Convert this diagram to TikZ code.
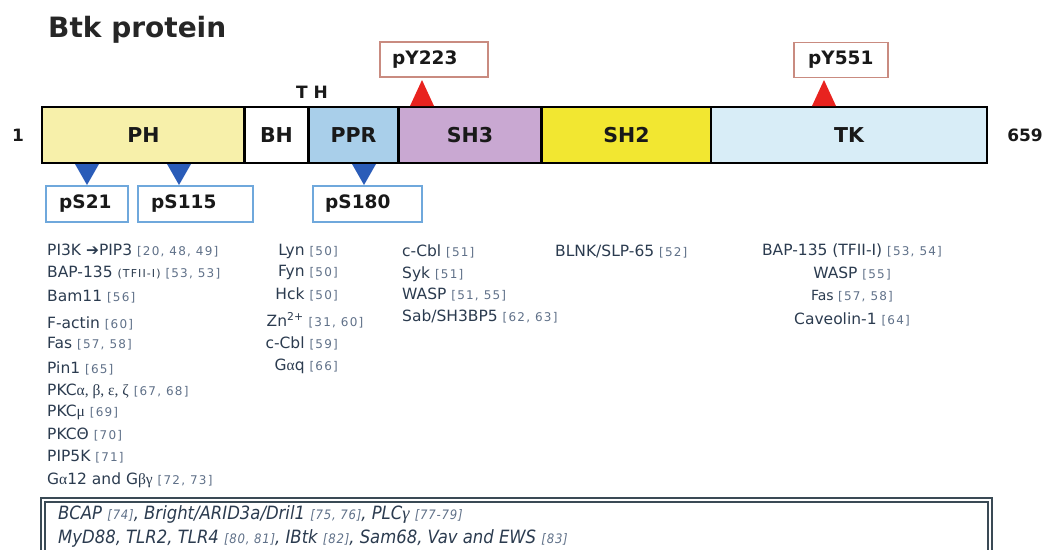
\documentclass[tikz,border=0pt]{standalone}
\usepackage{fontspec}
\setmainfont{DejaVu Sans}
\newfontfamily\condfont{DejaVu Sans Condensed}
\newfontfamily\reffont[LetterSpace=10]{DejaVu Sans}
\newfontfamily\condref[LetterSpace=6]{DejaVu Sans Condensed}
\newfontfamily\grk{Liberation Serif}
\definecolor{phc}{HTML}{F7F0AA}
\definecolor{pprc}{HTML}{A9CFEA}
\definecolor{shthree}{HTML}{C9A8D2}
\definecolor{shtwo}{HTML}{F2E731}
\definecolor{tkc}{HTML}{D8EDF7}
\definecolor{pyborder}{HTML}{C98B80}
\definecolor{psborder}{HTML}{6FA8DC}
\definecolor{redtri}{HTML}{E8231F}
\definecolor{bluetri}{HTML}{2A5CB8}
\definecolor{listc}{HTML}{2B3B4F}
\definecolor{refc}{HTML}{5F7088}
\definecolor{boxline}{HTML}{3A4A55}
\newcommand{\rf}[1]{{\reffont\fontsize{12}{14}\selectfont\color{refc}[#1]}}
\newcommand{\brf}[1]{{\condref\itshape\fontsize{13}{15}\selectfont\color{refc}[#1]}}
\newcommand{\gk}[1]{{\grk #1}}
\begin{document}
\begin{tikzpicture}[x=1pt,y=-1pt,
  dom/.style={draw=black,line width=2.2pt,minimum height=56,inner sep=0pt,
    font=\fontsize{20.5}{24}\selectfont\bfseries,text=black!90},
  pybox/.style={draw=pyborder,line width=1.6pt,fill=white,minimum height=35,inner sep=0pt},
  psbox/.style={draw=psborder,line width=1.6pt,fill=white,minimum height=36,inner sep=0pt},
  tag/.style={font=\fontsize{18.5}{22}\selectfont\bfseries,text=black!90,inner sep=0pt},
  item/.style={font=\fontsize{15.5}{18}\selectfont,text=listc,inner sep=0pt},
  bitem/.style={font=\condfont\itshape\fontsize{18.3}{20}\selectfont,text=listc,inner sep=0pt},
  redt/.style={fill=redtri},
  bluet/.style={fill=bluetri}]
\useasboundingbox (0,0) rectangle (1047,549);
% title
\node[font=\fontsize{28}{32}\selectfont\bfseries,text=black!85,anchor=west,inner sep=0pt] (title) at (48,30) {Btk protein};
% domains
\node[dom,fill=phc,minimum width=203] (ph) at (143.5,135) {PH};
\node[dom,fill=white,minimum width=64] (bh) at (276.5,135) {BH};
\node[dom,fill=pprc,minimum width=90] (ppr) at (353.5,135) {PPR};
\node[dom,fill=shthree,minimum width=143] (sh3) at (470,135) {SH3};
\node[dom,fill=shtwo,minimum width=170] (sh2) at (626.5,135) {SH2};
\node[dom,fill=tkc,minimum width=276] (tk) at (849,135) {TK};
\node[font=\fontsize{17}{20}\selectfont\bfseries,text=black!90,inner sep=0pt] (one) at (18,135) {1};
\node[font=\fontsize{17}{20}\selectfont\bfseries,text=black!90,inner sep=0pt] (end) at (1025,135) {659};
\node[font=\fontsize{17}{20}\selectfont\bfseries,text=black!90,inner sep=0pt] (th) at (312,92) {T\hspace{6pt}H};
% tyrosine phosphorylation
\node[pybox,minimum width=108] (py223) at (434,59.5) {};
\node[tag,anchor=west] (py223t) at (392,59.5) {pY223};
\node[pybox,minimum width=94] (py551) at (841,60) {};
\node[tag,anchor=west] (py551t) at (808,60) {pY551};
\fill[redt] (410,106) -- (434,106) -- (422,80) -- cycle;
\fill[redt] (812,106) -- (836,106) -- (824,80) -- cycle;
% serine phosphorylation
\fill[bluet] (75,164) -- (99,164) -- (87,185) -- cycle;
\fill[bluet] (167,164) -- (191,164) -- (179,185) -- cycle;
\fill[bluet] (352,164) -- (376,164) -- (364,185) -- cycle;
\node[psbox,minimum width=82] (ps21) at (87,204) {};
\node[tag,anchor=west] (ps21t) at (59,204) {pS21};
\node[psbox,minimum width=115] (ps115) at (195.5,204) {};
\node[tag,anchor=west] (ps115t) at (151,204) {pS115};
\node[psbox,minimum width=109] (ps180) at (367.5,204) {};
\node[tag,anchor=west] (ps180t) at (325,204) {pS180};
% column 1 (PH)
\node[item,anchor=base west] (a1) at (47,255) {PI3K ➔PIP3 \rf{20, 48, 49}};
\node[item,anchor=base west] (a2) at (47,277) {BAP-135 {\reffont\fontsize{11}{13}\selectfont (TFII-I)} \rf{53, 53}};
\node[item,anchor=base west] (a3) at (47,301) {Bam11 \rf{56}};
\node[item,anchor=base west] (a4) at (47,328) {F-actin \rf{60}};
\node[item,anchor=base west] (a5) at (47,348) {Fas \rf{57, 58}};
\node[item,anchor=base west] (a6) at (47,373) {Pin1 \rf{65}};
\node[item,anchor=base west] (a7) at (47,395) {PKC\gk{α, β, ε, ζ} \rf{67, 68}};
\node[item,anchor=base west] (a8) at (47,416) {PKC\gk{μ} \rf{69}};
\node[item,anchor=base west] (a9) at (47,439) {PKCΘ \rf{70}};
\node[item,anchor=base west] (a10) at (47,461) {PIP5K \rf{71}};
\node[item,anchor=base west] (a11) at (47,484) {G\gk{α}12 and G\gk{βγ} \rf{72, 73}};
% column 2 (BH/PPR)
\node[item,anchor=base east] (b1) at (338,255) {Lyn \rf{50}};
\node[item,anchor=base east] (b2) at (338,276) {Fyn \rf{50}};
\node[item,anchor=base east] (b3) at (338,299) {Hck \rf{50}};
\node[item,anchor=base] (b4) at (315,326) {Zn\textsuperscript{2+} \rf{31, 60}};
\node[item,anchor=base east] (b5) at (338,348) {c-Cbl \rf{59}};
\node[item,anchor=base east] (b6) at (338,370) {G\gk{α}q \rf{66}};
% column 3 (SH3)
\node[item,anchor=base west] (c1) at (402,256) {c-Cbl \rf{51}};
\node[item,anchor=base west] (c2) at (402,278) {Syk \rf{51}};
\node[item,anchor=base west] (c3) at (402,299) {WASP \rf{51, 55}};
\node[item,anchor=base west] (c4) at (402,321) {Sab/SH3BP5 \rf{62,\ 63}};
% column 4 (SH2)
\node[item,anchor=base west] (d1) at (555,256) {BLNK/SLP-65 \rf{52}};
% column 5 (TK)
\node[item,anchor=base] (e1) at (852,255) {BAP-135 (TFII-I) \rf{53, 54}};
\node[item,anchor=base] (e2) at (852,278) {WASP \rf{55}};
\node[item,anchor=base,font=\fontsize{14}{16}\selectfont] (e3) at (852,300) {Fas \rf{57, 58}};
\node[item,anchor=base] (e4) at (852,324) {Caveolin-1 \rf{64}};
% bottom box
\begin{scope}
\clip (0,0) rectangle (1047,549);
\draw[boxline,line width=1.3pt] (41,498) rectangle (992,570);
\draw[boxline,line width=1.3pt] (45,502) rectangle (988,570);
\end{scope}
\node[bitem,anchor=base west] (f1) at (58,519) {BCAP \brf{74}, Bright/ARID3a/Dril1 \brf{75, 76}, PLC\gk{\itshape γ} \brf{77-79}};
\node[bitem,anchor=base west] (f2) at (58,543.5) {MyD88, TLR2, TLR4 \brf{80, 81}, IBtk \brf{82}, Sam68, Vav and EWS \brf{83}};
\end{tikzpicture}
\end{document}
